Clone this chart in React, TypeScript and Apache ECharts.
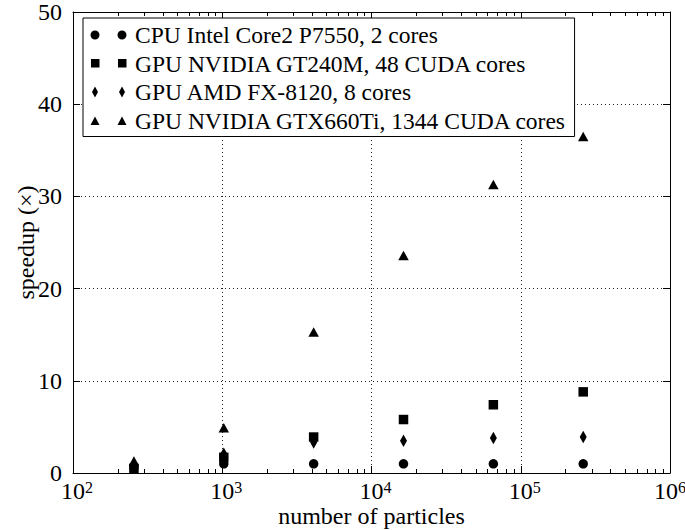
import React, { useEffect, useRef } from "react";
import * as echarts from "echarts";

// Problem sizes (number of particles) shared by every device
const particles = [256, 1024, 4096, 16384, 65536, 262144];

// Speedup relative to the reference implementation
const cpuCore2 = [0.6, 1.0, 1.0, 1.0, 1.0, 1.0];
const gpuGt240m = [0.5, 1.7, 3.9, 5.8, 7.4, 8.8];
const gpuAmdFx = [0.8, 2.1, 3.3, 3.5, 3.8, 3.9];
const gpuGtx660ti = [1.3, 4.9, 15.3, 23.6, 31.3, 36.5];

const seriesNames = [
  "CPU Intel Core2 P7550, 2 cores",
  "GPU NVIDIA GT240M, 48 CUDA cores",
  "GPU AMD FX-8120, 8 cores",
  "GPU NVIDIA GTX660Ti, 1344 CUDA cores",
];

// Axis ticks
const xDecades = [100, 1000, 10000, 100000, 1000000];
const yTicks = [0, 10, 20, 30, 40, 50];

const FONT = "'Liberation Serif', 'Times New Roman', serif";
const INK = "#000";

// Minor ticks at 2..9 times each decade
const xMinorTicks: number[] = [];
for (let d = 0; d < xDecades.length - 1; d++) {
  for (let m = 2; m <= 9; m++) xMinorTicks.push(xDecades[d] * m);
}

// Legend icons: two markers side by side, drawn in a 40x12 box
const BOX = "M0 0 L0 0 M40 12 L40 12 ";
const legendIcons = [
  "path://" + BOX +
    "M0.5 6 A4.5 4.5 0 1 0 9.5 6 A4.5 4.5 0 1 0 0.5 6 Z M27.5 6 A4.5 4.5 0 1 0 36.5 6 A4.5 4.5 0 1 0 27.5 6 Z",
  "path://" + BOX + "M1 1.5 L9.5 1.5 L9.5 10 L1 10 Z M28 1.5 L36.5 1.5 L36.5 10 L28 10 Z",
  "path://" + BOX + "M5 0.5 L8 6 L5 11.5 L2 6 Z M32 0.5 L35 6 L32 11.5 L29 6 Z",
  "path://" + BOX + "M5 2 L9.5 10.5 L0.5 10.5 Z M32 2 L36.5 10.5 L27.5 10.5 Z",
];

const GRID = { left: 73, top: 12, width: 597, height: 461 };

const dotted = { color: "#222", width: 1, type: [1, 3] as number[] };

function pairs(values: number[]) {
  return particles.map((x, i) => [x, values[i]]);
}

// "10" with a raised exponent; all but the last label get a small leading
// spacer, the last one stays centred so it fits the page
function decadeLabel(v: number) {
  const e = Math.round(Math.log10(v));
  const lead = v < xDecades[xDecades.length - 1] ? "{p| }" : "";
  return lead + "{b|10}{s|" + e + "}";
}

export default function App() {
  const ref = useRef<HTMLDivElement>(null);

  useEffect(() => {
    if (!ref.current) return;
    const chart = echarts.init(ref.current, null, { renderer: "svg" });

    const logAxisBase = {
      type: "log",
      logBase: 10,
      min: xDecades[0],
      max: xDecades[xDecades.length - 1],
    };

    const option: any = {
      animation: false,
      backgroundColor: "#fff",
      textStyle: { fontFamily: FONT, color: INK },
      grid: [
        { ...GRID, containLabel: false, outerBoundsMode: "none" },
        { ...GRID, containLabel: false, outerBoundsMode: "none" },
      ],
      legend: {
        orient: "vertical",
        left: 83,
        top: 18,
        padding: [5, 7, 4, 7],
        itemGap: 4.5,
        itemWidth: 40,
        itemHeight: 12,
        backgroundColor: "#fff",
        borderColor: INK,
        borderWidth: 1,
        borderRadius: 0,
        selectedMode: false,
        textStyle: {
          fontFamily: FONT,
          fontSize: 23.5,
          lineHeight: 24,
          color: INK,
          padding: [0, 0, 0, 0],
        },
        data: seriesNames.map((name, i) => ({ name, icon: legendIcons[i] })),
      },
      xAxis: [
        {
          ...logAxisBase,
          gridIndex: 0,
          position: "bottom",
          name: "number of particles",
          nameLocation: "middle",
          nameGap: 31,
          nameMoveOverlap: false,
          nameTextStyle: { fontFamily: FONT, fontSize: 24, lineHeight: 24, color: INK },
          axisLine: { show: true, onZero: false, lineStyle: { color: INK, width: 1 } },
          axisTick: {
            show: true,
            inside: true,
            length: 7,
            customValues: xDecades,
            lineStyle: { color: INK, width: 1 },
          },
          axisLabel: {
            show: true,
            customValues: xDecades,
            margin: 6,
            showMinLabel: true,
            showMaxLabel: true,
            hideOverlap: false,
            formatter: (v: number) => decadeLabel(v),
            rich: {
              p: { fontFamily: FONT, fontSize: 8, width: 8, lineHeight: 24, verticalAlign: "bottom" },
              b: { fontFamily: FONT, fontSize: 24, lineHeight: 24, color: INK, verticalAlign: "bottom" },
              s: { fontFamily: FONT, fontSize: 16, lineHeight: 8, color: INK, verticalAlign: "top" },
            },
          },
          splitLine: { show: true, lineStyle: dotted },
          minorTick: { show: false },
        },
        {
          ...logAxisBase,
          gridIndex: 0,
          position: "top",
          axisLine: { show: true, onZero: false, lineStyle: { color: INK, width: 1 } },
          axisTick: {
            show: true,
            inside: true,
            length: 7,
            customValues: xDecades,
            lineStyle: { color: INK, width: 1 },
          },
          axisLabel: { show: false },
          splitLine: { show: false },
        },
        {
          ...logAxisBase,
          gridIndex: 1,
          position: "bottom",
          axisLine: { show: false },
          axisTick: {
            show: true,
            inside: true,
            length: 4,
            customValues: xMinorTicks,
            lineStyle: { color: INK, width: 1 },
          },
          axisLabel: { show: false },
          splitLine: { show: false },
        },
        {
          ...logAxisBase,
          gridIndex: 1,
          position: "top",
          axisLine: { show: false },
          axisTick: {
            show: true,
            inside: true,
            length: 4,
            customValues: xMinorTicks,
            lineStyle: { color: INK, width: 1 },
          },
          axisLabel: { show: false },
          splitLine: { show: false },
        },
      ],
      yAxis: [
        {
          type: "value",
          gridIndex: 0,
          position: "left",
          min: yTicks[0],
          max: yTicks[yTicks.length - 1],
          interval: 10,
          name: "speedup (×)",
          nameLocation: "middle",
          nameGap: 35,
          nameMoveOverlap: false,
          nameTextStyle: { fontFamily: FONT, fontSize: 24, color: INK },
          axisLine: { show: true, onZero: false, lineStyle: { color: INK, width: 1 } },
          axisTick: { show: true, inside: true, length: 7, lineStyle: { color: INK, width: 1 } },
          axisLabel: {
            show: true,
            margin: 11,
            fontFamily: FONT,
            fontSize: 24,
            lineHeight: 10,
            color: INK,
            showMinLabel: true,
            showMaxLabel: true,
          },
          splitLine: { show: true, lineStyle: dotted },
        },
        {
          type: "value",
          gridIndex: 0,
          position: "right",
          min: yTicks[0],
          max: yTicks[yTicks.length - 1],
          interval: 10,
          axisLine: { show: true, onZero: false, lineStyle: { color: INK, width: 1 } },
          axisTick: { show: true, inside: true, length: 7, lineStyle: { color: INK, width: 1 } },
          axisLabel: { show: false },
          splitLine: { show: false },
        },
        {
          type: "value",
          gridIndex: 1,
          min: yTicks[0],
          max: yTicks[yTicks.length - 1],
          show: false,
        },
      ],
      series: [
        {
          name: seriesNames[0],
          type: "scatter",
          xAxisIndex: 0,
          yAxisIndex: 0,
          symbol: "circle",
          symbolSize: 9.5,
          itemStyle: { color: INK, opacity: 1 },
          data: pairs(cpuCore2),
        },
        {
          name: seriesNames[1],
          type: "scatter",
          xAxisIndex: 0,
          yAxisIndex: 0,
          symbol: "rect",
          symbolSize: [9.5, 9.5],
          itemStyle: { color: INK, opacity: 1 },
          data: pairs(gpuGt240m),
        },
        {
          name: seriesNames[2],
          type: "scatter",
          xAxisIndex: 0,
          yAxisIndex: 0,
          symbol: "diamond",
          symbolSize: [7, 12.5],
          itemStyle: { color: INK, opacity: 1 },
          data: pairs(gpuAmdFx),
        },
        {
          name: seriesNames[3],
          type: "scatter",
          xAxisIndex: 0,
          yAxisIndex: 0,
          symbol: "triangle",
          symbolSize: [10.5, 9.5],
          itemStyle: { color: INK, opacity: 1 },
          data: pairs(gpuGtx660ti),
        },
      ],
    };

    chart.setOption(option);
    return () => chart.dispose();
  }, []);

  return (
    <div
      ref={ref}
      style={{ position: "absolute", left: 0, top: 0, width: 685, height: 530 }}
    />
  );
}
